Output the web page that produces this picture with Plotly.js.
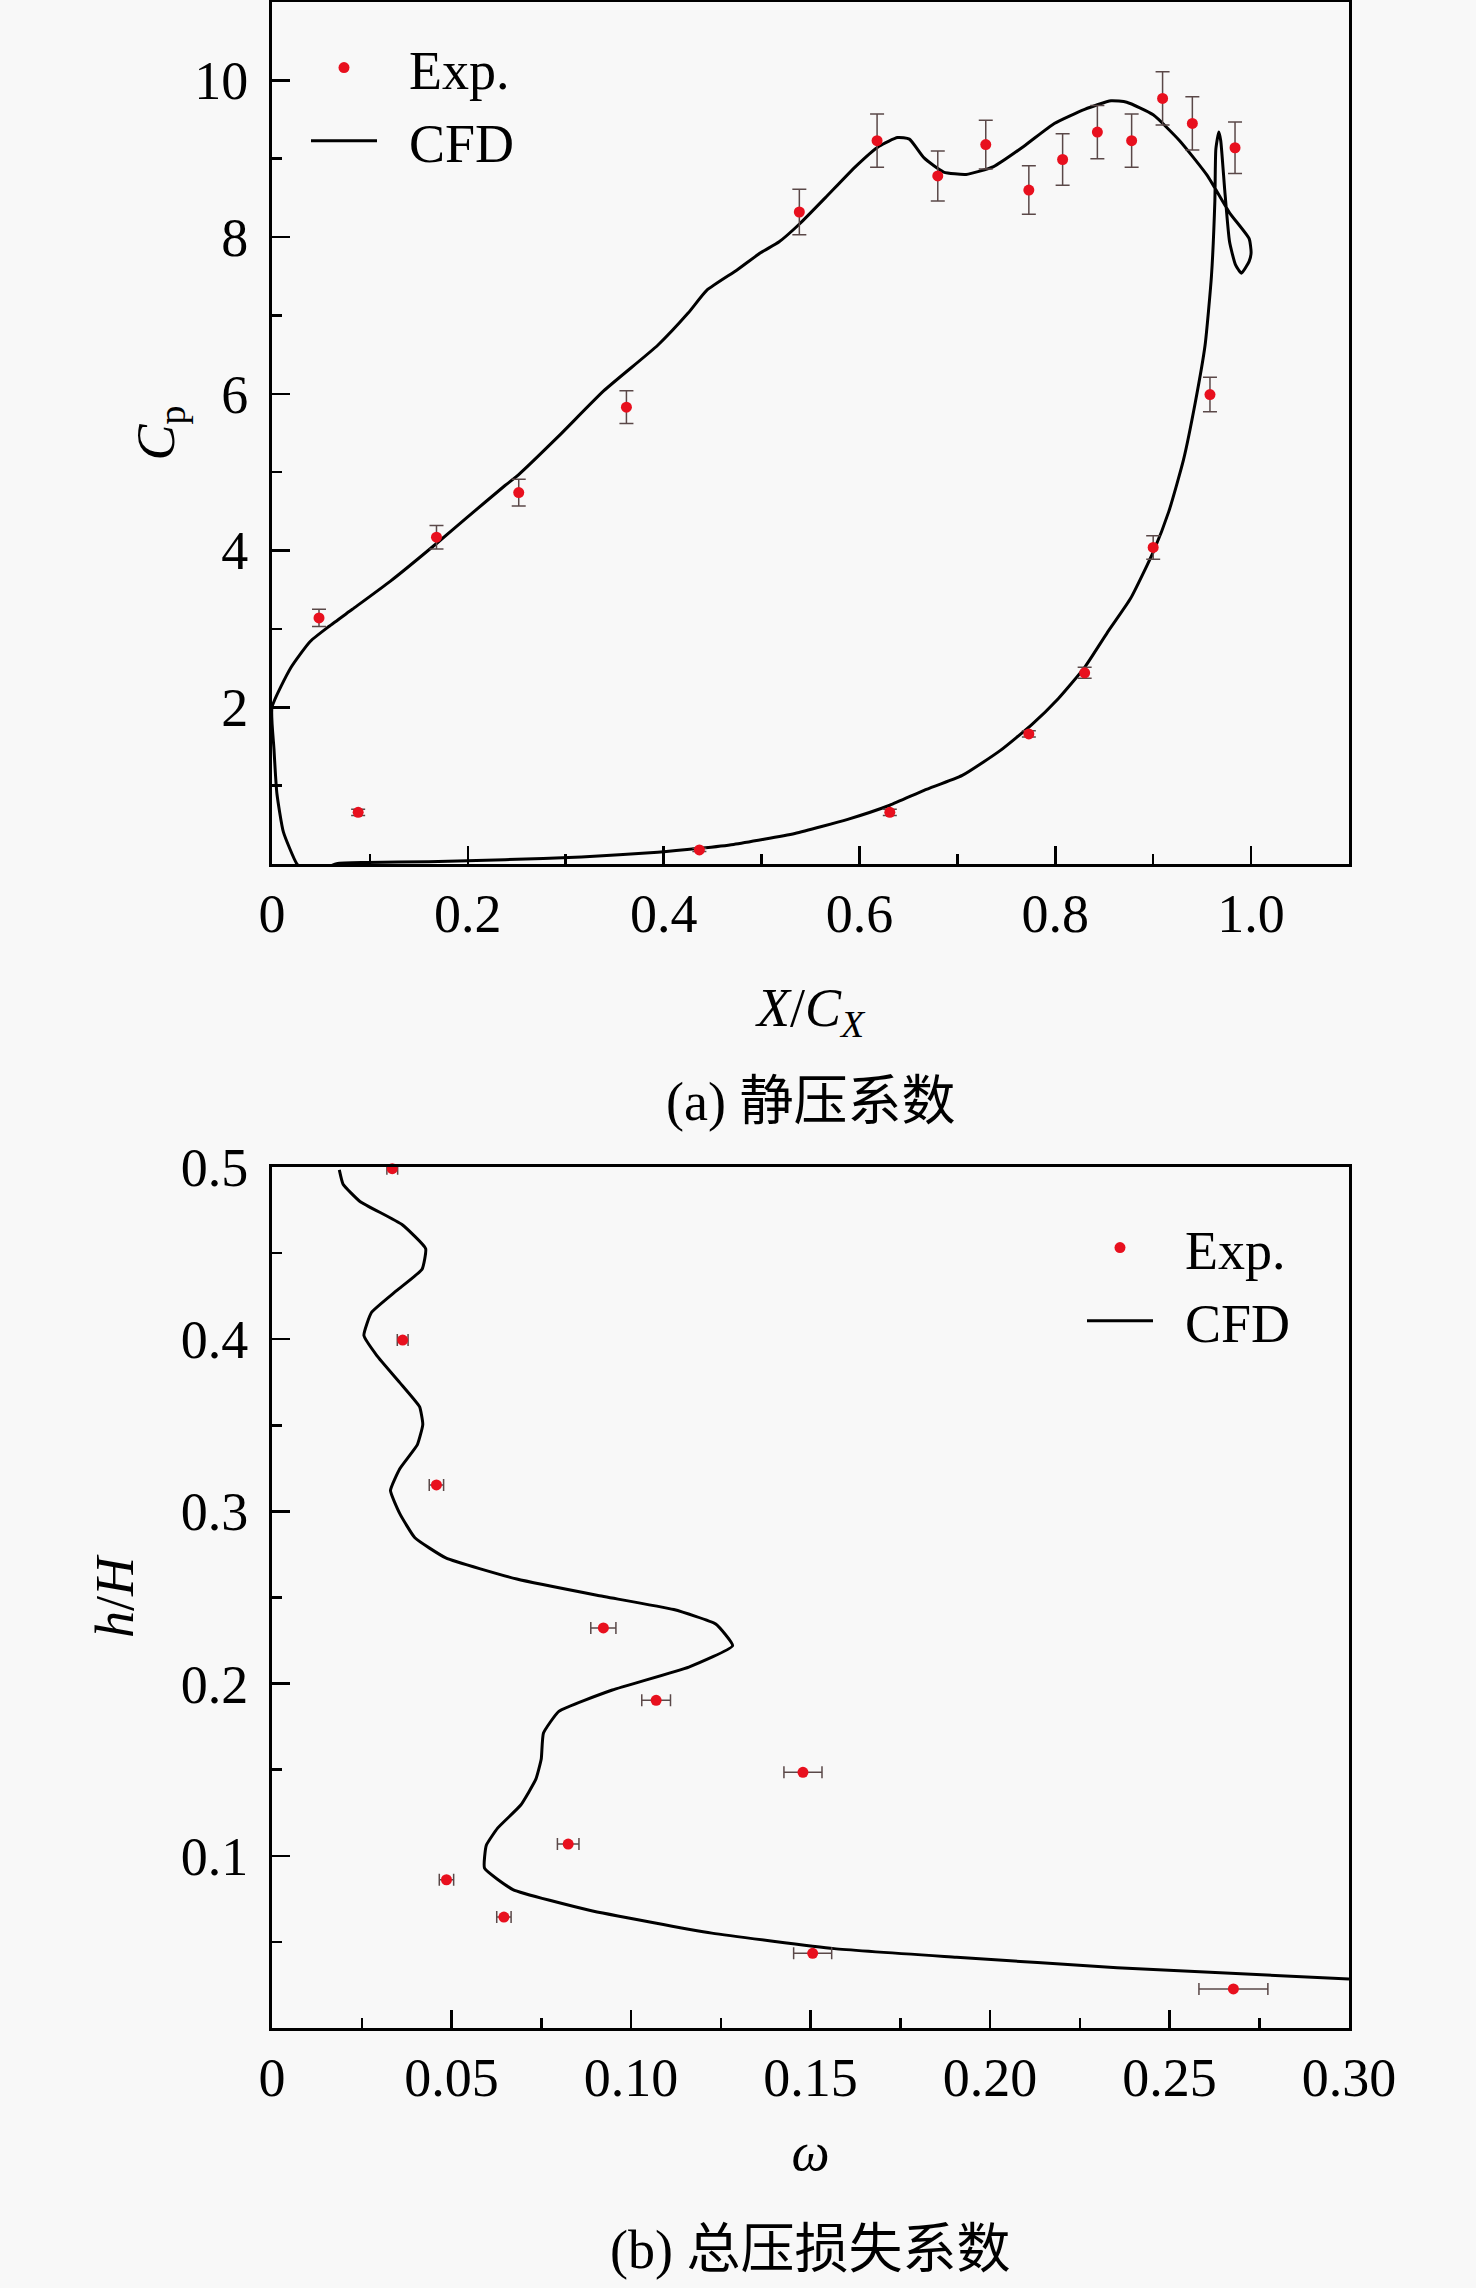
<!DOCTYPE html>
<html>
<head>
<meta charset="utf-8">
<script src="https://cdn.plot.ly/plotly-3.0.1.min.js"></script>
<style>html,body{margin:0;padding:0;background:#f8f8f8;}</style>
</head>
<body>
<div id="chart" style="width:1476px;height:2288px;"></div>
<script>
// ---- (a) static pressure coefficient ----
const expX = [0.048,0.088,0.168,0.252,0.362,0.4365,0.5386,0.618,0.631,0.680,0.729,0.773,0.773,0.8075,0.830,0.843,0.878,0.900,0.9096,0.940,0.958,0.9836];
const expCp = [3.14,0.66,4.17,4.74,5.83,0.18,8.32,9.23,0.66,8.78,9.18,8.60,1.66,8.99,2.44,9.34,9.23,4.04,9.77,9.45,5.99,9.14];
const expCpErr = [0.11,0.04,0.15,0.17,0.21,0.02,0.29,0.34,0.04,0.32,0.31,0.31,0.04,0.33,0.07,0.34,0.34,0.15,0.34,0.34,0.22,0.33];

const cfdX = [0.0,0.0195,0.039,0.058,0.082,0.121,0.168,0.199,0.238,0.252,0.292,0.339,0.394,0.425,0.444,0.475,0.499,0.518,0.539,0.565,0.596,0.620,0.639,0.651,0.666,0.686,0.709,0.737,0.768,0.799,0.830,0.857,0.873,0.900,0.927,0.955,0.978,0.998,1.0,0.998,0.990,0.984,0.978,0.973,0.969,0.967,0.964,0.963,0.9595,0.953,0.943,0.931,0.916,0.900,0.877,0.853,0.830,0.803,0.776,0.744,0.705,0.666,0.631,0.588,0.534,0.4715,0.4365,0.394,0.316,0.238,0.160,0.097,0.066,0.05,0.035,0.025,0.0116,0.005,0.002,0.0];
const cfdCp = [2.0,2.51,2.84,3.03,3.25,3.61,4.09,4.42,4.83,4.97,5.45,6.04,6.62,7.03,7.32,7.58,7.80,7.94,8.17,8.50,8.90,9.16,9.27,9.25,9.01,8.83,8.80,8.90,9.16,9.45,9.63,9.74,9.72,9.56,9.23,8.79,8.31,7.98,7.80,7.69,7.54,7.65,7.94,8.61,9.23,9.34,9.12,8.46,7.50,6.62,5.89,5.16,4.50,3.98,3.39,2.95,2.51,2.11,1.78,1.45,1.13,0.94,0.75,0.57,0.39,0.25,0.20,0.15,0.09,0.055,0.03,0.02,0.005,-0.08,-0.12,0.01,0.41,0.90,1.47,2.0];

const ax1TickVals = [0,0.2,0.4,0.6,0.8,1.0];
const ax1TickText = ["0","0.2","0.4","0.6","0.8","1.0"];
const ax1MinorVals = [0.1,0.3,0.5,0.7,0.9];
const ay1TickVals = [2,4,6,8,10];
const ay1TickText = ["2","4","6","8","10"];
const ay1MinorVals = [1,3,5,7,9];

// ---- (b) total pressure loss coefficient ----
const expOmega = [0.0335,0.0364,0.0458,0.0923,0.1070,0.1479,0.0825,0.0486,0.0646,0.1506,0.2678];
const expH = [0.499,0.3995,0.3154,0.2323,0.1903,0.1485,0.1068,0.0861,0.0644,0.0434,0.0227];
const expOmegaErr = [0.0015,0.0015,0.002,0.0035,0.004,0.0053,0.003,0.002,0.002,0.0053,0.0096];

const cfdOmega = [0.01875,0.0198,0.0245,0.0362,0.0428,0.0418,0.0347,0.0277,0.0256,0.0292,0.0356,0.0411,0.0420,0.0405,0.0356,0.0330,0.0356,0.0398,0.0484,0.0682,0.0905,0.1119,0.1236,0.1283,0.1161,0.0948,0.0799,0.0756,0.0750,0.0735,0.0693,0.0629,0.0597,0.0592,0.0671,0.0884,0.1225,0.1566,0.1907,0.2354,0.3000];
const cfdH = [0.4983,0.490,0.480,0.4666,0.4526,0.4406,0.4282,0.4155,0.4022,0.3905,0.3748,0.3608,0.3505,0.3388,0.3248,0.3121,0.2987,0.2847,0.2730,0.2607,0.2513,0.2430,0.2346,0.2220,0.2096,0.1963,0.1839,0.1712,0.1562,0.1445,0.1295,0.1162,0.1061,0.0928,0.0804,0.0684,0.0551,0.0461,0.0411,0.0350,0.0284];

const ax2TickVals = [0,0.05,0.10,0.15,0.20,0.25,0.30];
const ax2TickText = ["0","0.05","0.10","0.15","0.20","0.25","0.30"];
const ax2MinorVals = [0.025,0.075,0.125,0.175,0.225,0.275];
const ay2TickVals = [0.1,0.2,0.3,0.4,0.5];
const ay2TickText = ["0.1","0.2","0.3","0.4","0.5"];
const ay2MinorVals = [0.05,0.15,0.25,0.35,0.45];

const serif = "Liberation Serif, 'Times New Roman', 'Noto Sans CJK SC', serif";
const FS = 54;
const RED = "#e8101e";
const ERR = "#5a4848";
const BG = "#f8f8f8";
const GAP = "\u00a0\u00a0";

const traces = [
  {x: cfdX, y: cfdCp, mode: "lines", name: GAP + "CFD", line: {color: "#000", width: 3, shape: "spline", smoothing: 0.5},
   xaxis: "x", yaxis: "y", legend: "legend", legendrank: 2},
  {x: expX, y: expCp, mode: "markers", name: GAP + "Exp.", marker: {color: RED, size: 11},
   error_y: {type: "data", array: expCpErr, visible: true, color: ERR, thickness: 1.5, width: 7},
   xaxis: "x", yaxis: "y", legend: "legend", legendrank: 1, cliponaxis: false},
  {x: cfdOmega, y: cfdH, mode: "lines", name: GAP + "CFD", line: {color: "#000", width: 3, shape: "spline", smoothing: 0.4},
   xaxis: "x2", yaxis: "y2", legend: "legend2", legendrank: 2},
  {x: expOmega, y: expH, mode: "markers", name: GAP + "Exp.", marker: {color: RED, size: 11},
   error_x: {type: "data", array: expOmegaErr, visible: true, color: ERR, thickness: 1.5, width: 6},
   xaxis: "x2", yaxis: "y2", legend: "legend2", legendrank: 1, cliponaxis: false}
];

function axisBase(extra) {
  return Object.assign({
    showline: true, mirror: true, linecolor: "#000", linewidth: 3,
    ticks: "inside", ticklen: 18, tickwidth: 2.5, tickcolor: "#000",
    showgrid: false, zeroline: false, tickmode: "array",
    tickfont: {family: serif, size: FS, color: "#000"},
    fixedrange: true
  }, extra);
}

const W = 1476, H = 2288;
const xL = 272/W, xR = 1349/W;
const minorStyle = {ticks: "inside", ticklen: 10, tickwidth: 2.5, tickcolor: "#000", tickmode: "array"};

const layout = {
  width: W, height: H,
  margin: {l: 0, r: 0, t: 0, b: 0},
  paper_bgcolor: BG, plot_bgcolor: BG,
  font: {family: serif, size: FS, color: "#000"},
  showlegend: true,
  xaxis: axisBase({domain: [xL, xR], range: [0, 1.1], anchor: "y",
    tickvals: ax1TickVals, ticktext: ax1TickText, ticklabelstandoff: 0,
    minor: Object.assign({tickvals: ax1MinorVals}, minorStyle),
    title: {text: "<i>X</i>/<i>C</i><sub><i>X</i></sub>", font: {family: serif, size: FS}, standoff: 46}}),
  yaxis: axisBase({domain: [1 - 864/H, 1 - 2/H], range: [0, 11], anchor: "x",
    tickvals: ay1TickVals, ticktext: ay1TickText, ticklabelstandoff: 10,
    minor: Object.assign({tickvals: ay1MinorVals}, minorStyle),
    title: {text: "<i>C</i><sub>p</sub>", font: {family: serif, size: FS}, standoff: 3}}),
  xaxis2: axisBase({domain: [xL, xR], range: [0, 0.3], anchor: "y2",
    tickvals: ax2TickVals, ticktext: ax2TickText, ticklabelstandoff: 0,
    minor: Object.assign({tickvals: ax2MinorVals}, minorStyle),
    title: {text: "<i>ω</i>", font: {family: serif, size: FS}, standoff: 26}}),
  yaxis2: axisBase({domain: [1 - 2028/H, 1 - 1167/H], range: [0, 0.5], anchor: "x2",
    tickvals: ay2TickVals, ticktext: ay2TickText, ticklabelstandoff: 10,
    minor: Object.assign({tickvals: ay2MinorVals}, minorStyle),
    title: {text: "<i>h</i>/<i>H</i>", font: {family: serif, size: FS}, standoff: 30}}),
  legend: {x: 306/W, y: 1 - 26/H, xanchor: "left", yanchor: "top", itemwidth: 66,
    bgcolor: "rgba(0,0,0,0)", borderwidth: 0, font: {family: serif, size: FS}, traceorder: "normal"},
  legend2: {x: 1082/W, y: 1 - 1206/H, xanchor: "left", yanchor: "top", itemwidth: 66,
    bgcolor: "rgba(0,0,0,0)", borderwidth: 0, font: {family: serif, size: FS}, traceorder: "normal"},
  annotations: [
    {text: "(a) 静压系数", xref: "paper", yref: "paper", x: 810/W, y: 1 - 1102/H, xanchor: "center", yanchor: "middle",
     showarrow: false, font: {family: serif, size: FS, color: "#000"}},
    {text: "(b) 总压损失系数", xref: "paper", yref: "paper", x: 810/W, y: 1 - 2250/H, xanchor: "center", yanchor: "middle",
     showarrow: false, font: {family: serif, size: FS, color: "#000"}}
  ]
};

Plotly.newPlot("chart", traces, layout, {displayModeBar: false, staticPlot: true});
</script>
</body>
</html>
